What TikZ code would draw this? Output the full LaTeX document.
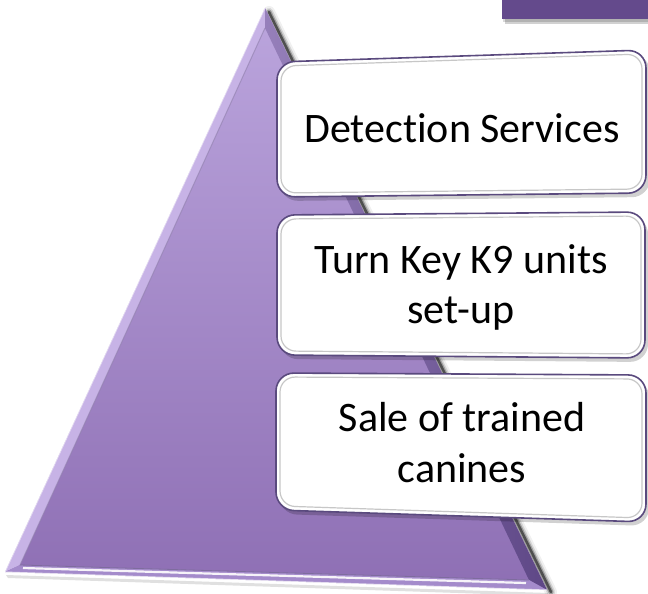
\documentclass[tikz,border=0pt]{standalone}
\usepackage{fontspec}
\setmainfont{Carlito}[Ligatures=NoCommon]
\definecolor{triTop}{HTML}{BBA5DD}
\definecolor{triBot}{HTML}{8E6FB4}
\definecolor{bevLeft}{HTML}{C7B3E6}
\definecolor{bevRight}{HTML}{5E4786}
\definecolor{bevBot}{HTML}{A48BCB}
\definecolor{cardEdge}{HTML}{5A4A7E}
\definecolor{topRect}{HTML}{644A8C}
\tikzset{
  boxshadow/.style={fill=black, opacity=0.18, rounded corners=18pt},
  cardbox/.style={fill=white, draw=cardEdge, line width=1.6pt, rounded corners=18pt},
  cardinner/.style={draw=black!22, line width=1.2pt, rounded corners=15pt},
  cardtext/.style={font=\fontsize{42}{50}\selectfont, anchor=base, inner sep=0pt, text=black},
}
\begin{document}
\begin{tikzpicture}[x=1pt,y=-1pt]
\useasboundingbox (0,0) rectangle (648,594);

% top-right rectangle
\fill[black, opacity=0.18] (505,0) rectangle (648,24);
\fill[black, opacity=0.15] (503,0) rectangle (648,22);
\fill[topRect] (502,0) rectangle (648,19);

% triangle coordinates
\coordinate (A) at (265,8);
\coordinate (L) at (5,572);
\coordinate (R) at (547,590);
\coordinate (a) at (265,28);
\coordinate (l) at (20,565);
\coordinate (r) at (529,580);

% shadow on right
\foreach \w/\o in {12/0.06,8/0.12,5/0.25,2.5/0.5}
  \draw[line width=\w pt, black, opacity=\o, line cap=round] (269,12) -- (551,592);
\fill[black, opacity=0.12] (6,575) -- (548,593) -- (548,596) -- (8,578) -- cycle;

% triangle body
\shade[top color=triTop, bottom color=triBot] (A) -- (L) -- (R) -- cycle;
% bevels
\fill[bevLeft] (A) -- (L) -- (l) -- (a) -- cycle;
\shade[left color=triTop!60!bevRight, right color=bevRight] (A) -- (R) -- (r) -- (a) -- cycle;
\fill[bevBot] (L) -- (R) -- (r) -- (l) -- cycle;
\draw[white, opacity=0.55, line width=1pt] (A) -- (L);
\draw[bevRight!70, opacity=0.6, line width=1pt] (a) -- (l);
\draw[white, opacity=0.9, line width=2.2pt] ([shift={(3,3)}]l) -- ([shift={(-3,3)}]r);
\draw[bevRight!80, line width=0.8pt] (l) -- (r);
\draw[white, opacity=0.7, line width=1pt] (L) -- (R);

% box 1
\fill[boxshadow] (280,66) -- (650,54) -- (650,197) -- (280,201) -- cycle;
\draw[cardbox] (277,62) -- (646,50) -- (646,193) -- (277,197) -- cycle;
\draw[cardinner] (281,66) -- (642,54) -- (642,189) -- (281,193) -- cycle;
\node[cardtext] (t1) at (462,142) {Detection Services};

% box 2
\fill[boxshadow] (280,219) -- (648,216) -- (648,362) -- (280,359) -- cycle;
\draw[cardbox] (277,215) -- (645,212) -- (645,358) -- (277,355) -- cycle;
\draw[cardinner] (281,219) -- (641,216) -- (641,354) -- (281,351) -- cycle;
\node[cardtext] (t2a) at (461,273) {Turn Key K9 units};
\node[cardtext] (t2b) at (461,323) {set-up};

% box 3
\fill[boxshadow] (279,377) -- (649,379) -- (649,526) -- (279,514) -- cycle;
\draw[cardbox] (276,373) -- (646,375) -- (646,522) -- (276,510) -- cycle;
\draw[cardinner] (280,377) -- (642,379) -- (642,518) -- (280,506) -- cycle;
\node[cardtext] (t3a) at (462,431) {Sale of trained};
\node[cardtext] (t3b) at (462,482) {canines};
\end{tikzpicture}
\end{document}
